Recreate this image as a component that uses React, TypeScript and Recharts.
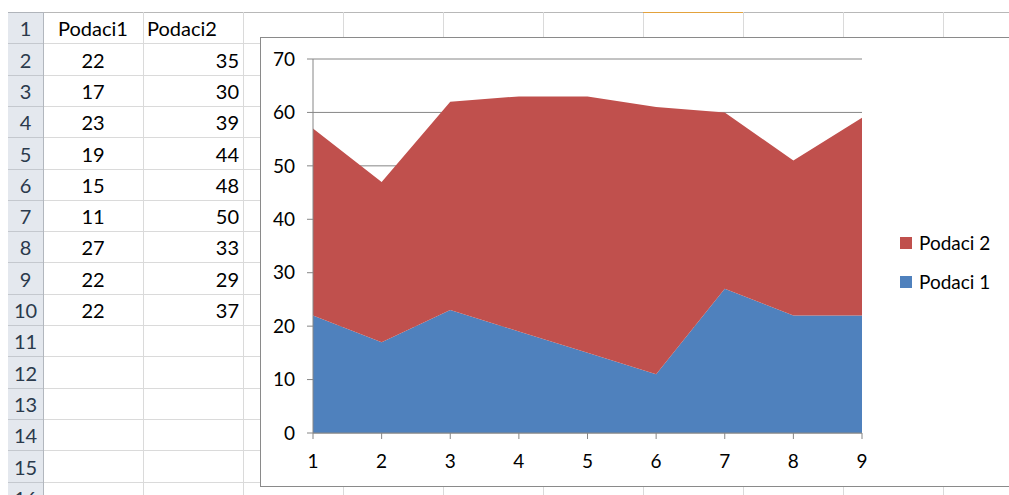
import React from 'react';
import { AreaChart, Area, XAxis, YAxis, CartesianGrid, Legend } from 'recharts';

const categories = [1, 2, 3, 4, 5, 6, 7, 8, 9];
const podaci1 = [22, 17, 23, 19, 15, 11, 27, 22, 22];
const podaci2 = [35, 30, 39, 44, 48, 50, 33, 29, 37];
const yTicks = [0, 10, 20, 30, 40, 50, 60, 70];
const columnHeaders = ['Podaci1', 'Podaci2'];
const seriesNames = ['Podaci 1', 'Podaci 2'];
const seriesColors = ['#4F81BD', '#C0504D'];
const rowNumbers = [1, 2, 3, 4, 5, 6, 7, 8, 9, 10, 11, 12, 13, 14, 15, 16];

const data = categories.map((c, i) => ({ x: c, p1: podaci1[i], p2: podaci2[i] }));

const ROW_TOP = 12;
const ROW_H = 31.3;
const HEAD_L = 8;
const HEAD_R = 43;
const COL_W = 100;
const GRID = '#DADADA';
const FONT = 'Lato, "Open Sans", sans-serif';

function rowY(k: number) {
  return Math.round(ROW_TOP + k * ROW_H);
}

function Sheet() {
  const els: React.ReactNode[] = [];
  // header background
  els.push(
    <div key="hbg" style={{ position: 'absolute', left: HEAD_L, top: ROW_TOP, width: HEAD_R - HEAD_L, height: 495 - ROW_TOP, background: '#E4E8EE' }} />
  );
  // horizontal lines
  for (let k = 0; k <= 16; k++) {
    const y = rowY(k);
    els.push(<div key={'hh' + k} style={{ position: 'absolute', left: HEAD_L, top: y, width: HEAD_R - HEAD_L, height: 1, background: k === 0 ? '#B0B4BA' : '#C4C8CE' }} />);
    els.push(<div key={'hc' + k} style={{ position: 'absolute', left: HEAD_R, top: y, width: 1009 - HEAD_R, height: 1, background: k === 0 ? '#B8B8B8' : GRID }} />);
  }
  // vertical lines
  els.push(<div key="vh" style={{ position: 'absolute', left: HEAD_R, top: ROW_TOP, width: 1, height: 495 - ROW_TOP, background: '#B2B7BE' }} />);
  for (let c = 1; c <= 9; c++) {
    const x = HEAD_R + c * COL_W;
    els.push(<div key={'v' + c} style={{ position: 'absolute', left: x, top: ROW_TOP, width: 1, height: 495 - ROW_TOP, background: GRID }} />);
  }
  // selected column marker
  els.push(<div key="sel" style={{ position: 'absolute', left: HEAD_R + 6 * COL_W, top: ROW_TOP, width: COL_W, height: 1, background: '#E3A23C' }} />);
  // row numbers
  rowNumbers.forEach((n, i) => {
    const t = rowY(i);
    els.push(
      <div key={'rn' + n} style={{ position: 'absolute', left: HEAD_L, top: t + 1, width: HEAD_R - HEAD_L, height: rowY(i + 1) - t - 1, display: 'flex', alignItems: 'center', justifyContent: 'center', color: '#2B3A4C', fontSize: 20 }}>
        {n}
      </div>
    );
  });
  // headers
  const cell = (key: string, col: number, row: number, text: string | number, align: 'center' | 'left' | 'right') => {
    const t = rowY(row);
    els.push(
      <div key={key} style={{ position: 'absolute', left: HEAD_R + col * COL_W + 4, top: t + 1, width: COL_W - 8, height: rowY(row + 1) - t - 1, display: 'flex', alignItems: 'center', justifyContent: align === 'center' ? 'center' : align === 'left' ? 'flex-start' : 'flex-end', color: '#000', fontSize: 20 }}>
        {text}
      </div>
    );
  };
  cell('h0', 0, 0, columnHeaders[0], 'center');
  cell('h1', 1, 0, columnHeaders[1], 'left');
  podaci1.forEach((v, i) => cell('a' + i, 0, i + 1, v, 'center'));
  podaci2.forEach((v, i) => cell('b' + i, 1, i + 1, v, 'right'));
  return <>{els}</>;
}

function LegendContent(props: any) {
  const payload = (props.payload || []).slice().reverse();
  return (
    <div style={{ fontFamily: FONT, fontSize: 19, color: '#000' }}>
      {payload.map((p: any) => (
        <div key={p.value} style={{ display: 'flex', alignItems: 'center', height: 39 }}>
          <div style={{ width: 12, height: 12, background: p.color, marginRight: 7 }} />
          <span>{p.value}</span>
        </div>
      ))}
    </div>
  );
}

export default function App() {
  return (
    <div style={{ position: 'fixed', left: 0, top: 0, width: 1009, height: 495, overflow: 'hidden', background: '#fff', fontFamily: FONT }}>
      <Sheet />
      <div style={{ position: 'absolute', left: 260, top: 37, width: 780, height: 450, boxSizing: 'border-box', border: '1px solid #8A8A8A', background: '#fff' }}>
        <AreaChart width={748} height={448} data={data} margin={{ top: 21, right: 147, bottom: 22, left: 0 }} style={{ fontFamily: FONT }}>
          <CartesianGrid horizontal={true} vertical={false} stroke="#868686" />
          <XAxis
            dataKey="x"
            type="number"
            domain={[1, 9]}
            ticks={categories}
            height={31}
            axisLine={{ stroke: '#868686' }}
            tickLine={{ stroke: '#868686' }}
            tickSize={6}
            tickMargin={16}
            tick={{ fill: '#000', fontSize: 19 }}
          />
          <YAxis
            domain={[0, 70]}
            ticks={yTicks}
            width={52}
            axisLine={{ stroke: '#868686' }}
            tickLine={{ stroke: '#868686' }}
            tickSize={6}
            tickMargin={12}
            tick={{ fill: '#000', fontSize: 19 }}
          />
          <Area type="linear" dataKey="p1" name={seriesNames[0]} stackId="1" stroke="none" fill={seriesColors[0]} fillOpacity={1} isAnimationActive={false} />
          <Area type="linear" dataKey="p2" name={seriesNames[1]} stackId="1" stroke="none" fill={seriesColors[1]} fillOpacity={1} isAnimationActive={false} />
          <Legend layout="vertical" align="center" verticalAlign="middle" wrapperStyle={{ left: 639, top: 185, width: 110 }} content={LegendContent} />
        </AreaChart>
      </div>
    </div>
  );
}
